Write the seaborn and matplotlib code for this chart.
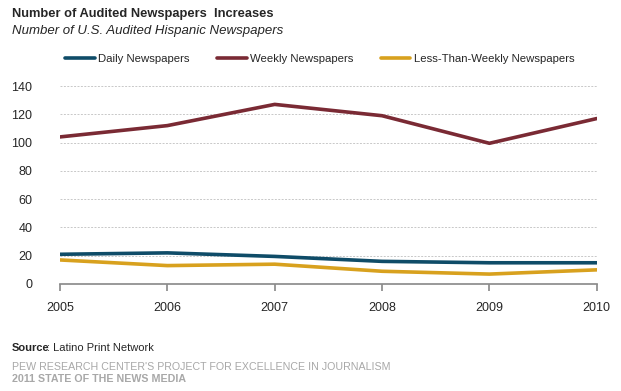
import numpy as np
import matplotlib
matplotlib.use("Agg")
import matplotlib.pyplot as plt
import seaborn as sns
import pandas as pd

# data
years = [2005, 2006, 2007, 2008, 2009, 2010]
daily = [21, 22, 19.5, 16, 15, 15]
weekly = [104, 112, 127, 119, 99.5, 117]
less_weekly = [17, 13, 14, 9, 7, 10]

series_names = ["Daily Newspapers", "Weekly Newspapers", "Less-Than-Weekly Newspapers"]
colors = ["#0F4C68", "#7A2A34", "#D8A11E"]

df = pd.DataFrame({"year": years * 3,
                   "value": daily + weekly + less_weekly,
                   "series": [s for s in series_names for _ in years]})

sns.set_theme(style="white")
plt.rcParams['font.family'] = ['Liberation Sans', 'DejaVu Sans']

fig = plt.figure(figsize=(6.21, 3.91), dpi=100)
ax = fig.add_axes([0.0966, 0.2737, 0.8644, 0.5063])

sns.lineplot(data=df, x="year", y="value", hue="series", palette=colors,
             hue_order=series_names, linewidth=2.6, ax=ax, legend=False)

ax.set_xlim(2005, 2010)
ax.set_ylim(0, 140)
ax.set_yticks(range(0, 141, 20))
ax.set_xticks(years)
ax.set_xlabel("")
ax.set_ylabel("")
ax.yaxis.grid(True, linestyle=(0, (2, 1.5)), color="#C8C8C8", linewidth=0.7)
ax.set_axisbelow(True)
for s in ["left", "right", "top"]:
    ax.spines[s].set_visible(False)
ax.spines["bottom"].set_color("#8C8C8C")
ax.tick_params(axis="x", bottom=True, length=5, color="#8C8C8C", labelsize=9, pad=8)
ax.tick_params(axis="y", left=False, labelsize=9, pad=14)

# legend
handles = [plt.Line2D([], [], color=c, linewidth=2.6) for c in colors]
fig.legend(handles, series_names, loc="center", bbox_to_anchor=(0.515, 0.849), ncol=3,
           frameon=False, fontsize=8.2, handlelength=2.6, handletextpad=0.3,
           columnspacing=2.4)

fig.text(0.019, 0.965, "Number of Audited Newspapers  Increases", fontsize=9.3,
         fontweight="bold", va="center")
fig.text(0.019, 0.921, "Number of U.S. Audited Hispanic Newspapers", fontsize=9.5,
         style="italic", va="center")

fig.text(0.019, 0.110, "Source", fontsize=8, fontweight="bold", va="center")
fig.text(0.076, 0.110, ": Latino Print Network", fontsize=8, va="center")
fig.text(0.019, 0.061, "PEW RESEARCH CENTER'S PROJECT FOR EXCELLENCE IN JOURNALISM",
         fontsize=7.7, color="#A8A8A8", va="center")
fig.text(0.019, 0.030, "2011 STATE OF THE NEWS MEDIA", fontsize=7.7, color="#A8A8A8",
         fontweight="bold", va="center")

fig.savefig("out.png", dpi=100)
